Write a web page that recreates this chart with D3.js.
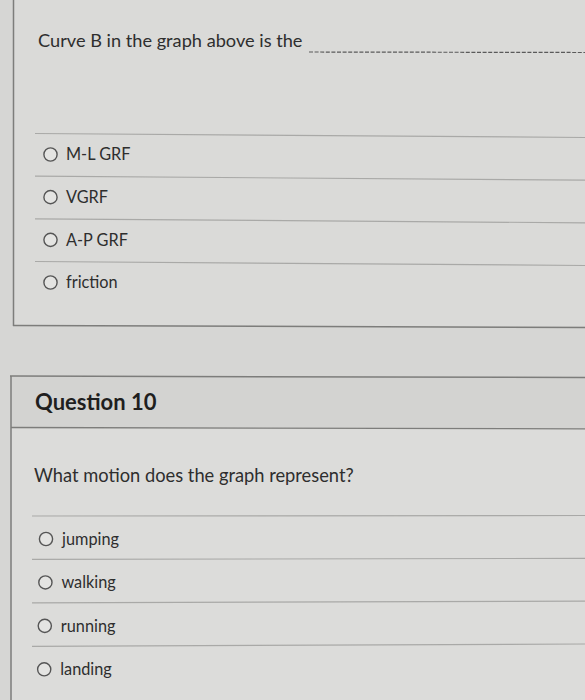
<!DOCTYPE html>
<html>
<head>
<meta charset="utf-8">
<script src="https://cdn.jsdelivr.net/npm/d3@7"></script>
<style>
  html, body { margin: 0; padding: 0; background: #d7d7d5; }
  svg { display: block; font-family: Lato, "Open Sans", sans-serif; }
</style>
</head>
<body>
<svg id="page" width="585" height="700"></svg>
<script>
//
// Content
//
var q9Prompt = "Curve B in the graph above is the";
var q9Options = ["M-L GRF", "VGRF", "A-P GRF", "friction"];

var q10Title = "Question 10";
var q10Prompt = "What motion does the graph represent?";
var q10Options = ["jumping", "walking", "running", "landing"];

var textColor = "#2e2e2e";
var ruleColor = "#a9a9a7";
var borderColor = "#7d7d7b";

var width = 585, height = 700;
var svg = d3.select("#page");

// page background
svg.append("rect").attr("width", width).attr("height", height).attr("fill", "#d6d6d4");

//
// Card 1 (tail of question 9)
//
var c1 = svg.append("g");
c1.append("rect").attr("x", 13).attr("y", -2).attr("width", 580).attr("height", 328)
    .attr("fill", "#dadad8");
c1.append("line").attr("x1", 13.5).attr("x2", 13.5).attr("y1", 0).attr("y2", 326)
    .attr("stroke", borderColor).attr("stroke-width", 1.5);
c1.append("line").attr("x1", 13).attr("x2", 585).attr("y1", 325.5).attr("y2", 327.5)
    .attr("stroke", borderColor).attr("stroke-width", 1.5);

c1.append("text").attr("x", 38).attr("y", 47)
    .attr("font-size", 18.2).attr("fill", textColor).text(q9Prompt);
c1.append("line").attr("x1", 309).attr("x2", 585).attr("y1", 52).attr("y2", 52.5)
    .attr("stroke", "#5a5a5a").attr("stroke-width", 1.2).attr("stroke-dasharray", "4,1.6");

// one row per option, rule above each
var y1 = d3.scaleLinear().domain([0, 3]).range([154.5, 282.5]);

c1.selectAll("line.rule")
    .data(q9Options)
    .enter()
    .append("line")
    .attr("class", "rule")
    .attr("x1", 35).attr("x2", 585)
    .attr("y1", function (d, i) { return y1(i) - 21; })
    .attr("y2", function (d, i) { return y1(i) - 17; })
    .attr("stroke", ruleColor).attr("stroke-width", 1.2);

var opt1 = c1.selectAll("g.opt")
    .data(q9Options)
    .enter()
    .append("g")
    .attr("class", "opt")
    .attr("transform", function (d, i) { return "translate(0," + y1(i) + ")"; });
opt1.append("circle").attr("cx", 50.5).attr("cy", 0).attr("r", 6.6)
    .attr("fill", "#e4e4e2").attr("stroke", "#555").attr("stroke-width", 1.4);
opt1.append("text").attr("x", 66).attr("y", 0).attr("dy", "0.36em")
    .attr("font-size", 16.3).attr("fill", textColor)
    .text(function (d) { return d; });

//
// Card 2 (question 10)
//
var c2 = svg.append("g");
c2.append("rect").attr("x", 11).attr("y", 376.5).attr("width", 580).attr("height", 330)
    .attr("fill", "#dcdcda");
// header band
c2.append("rect").attr("x", 11).attr("y", 376.5).attr("width", 580).attr("height", 51.5)
    .attr("fill", "#d3d3d1");
c2.append("line").attr("x1", 10).attr("x2", 585).attr("y1", 376).attr("y2", 377.5)
    .attr("stroke", borderColor).attr("stroke-width", 1.5);
c2.append("line").attr("x1", 11).attr("x2", 11).attr("y1", 376).attr("y2", 700)
    .attr("stroke", borderColor).attr("stroke-width", 1.5);
c2.append("line").attr("x1", 11).attr("x2", 585).attr("y1", 427.5).attr("y2", 428.8)
    .attr("stroke", borderColor).attr("stroke-width", 1.3);

c2.append("text").attr("x", 35).attr("y", 402).attr("dy", "0.36em")
    .attr("font-size", 22).attr("font-weight", "bold").attr("fill", "#1f1f1f")
    .text(q10Title);
c2.append("text").attr("x", 34).attr("y", 475).attr("dy", "0.36em")
    .attr("font-size", 18.3).attr("fill", textColor).text(q10Prompt);

var y2 = d3.scaleLinear().domain([0, 3]).range([539, 669.3]);

c2.selectAll("line.rule")
    .data(q10Options)
    .enter()
    .append("line")
    .attr("class", "rule")
    .attr("x1", 32).attr("x2", 585)
    .attr("y1", function (d, i) { return y2(i) - 23; })
    .attr("y2", function (d, i) { return y2(i) - 23.5 - i * 0.6; })
    .attr("stroke", ruleColor).attr("stroke-width", 1.2);

var opt2 = c2.selectAll("g.opt")
    .data(q10Options)
    .enter()
    .append("g")
    .attr("class", "opt")
    .attr("transform", function (d, i) { return "translate(" + (-i * 0.6) + "," + y2(i) + ")"; });
opt2.append("circle").attr("cx", 46).attr("cy", 0).attr("r", 6.6)
    .attr("fill", "#e4e4e2").attr("stroke", "#555").attr("stroke-width", 1.4);
opt2.append("text").attr("x", 62).attr("y", 0).attr("dy", "0.36em")
    .attr("font-size", 16.3).attr("fill", textColor)
    .text(function (d) { return d; });
</script>
</body>
</html>
